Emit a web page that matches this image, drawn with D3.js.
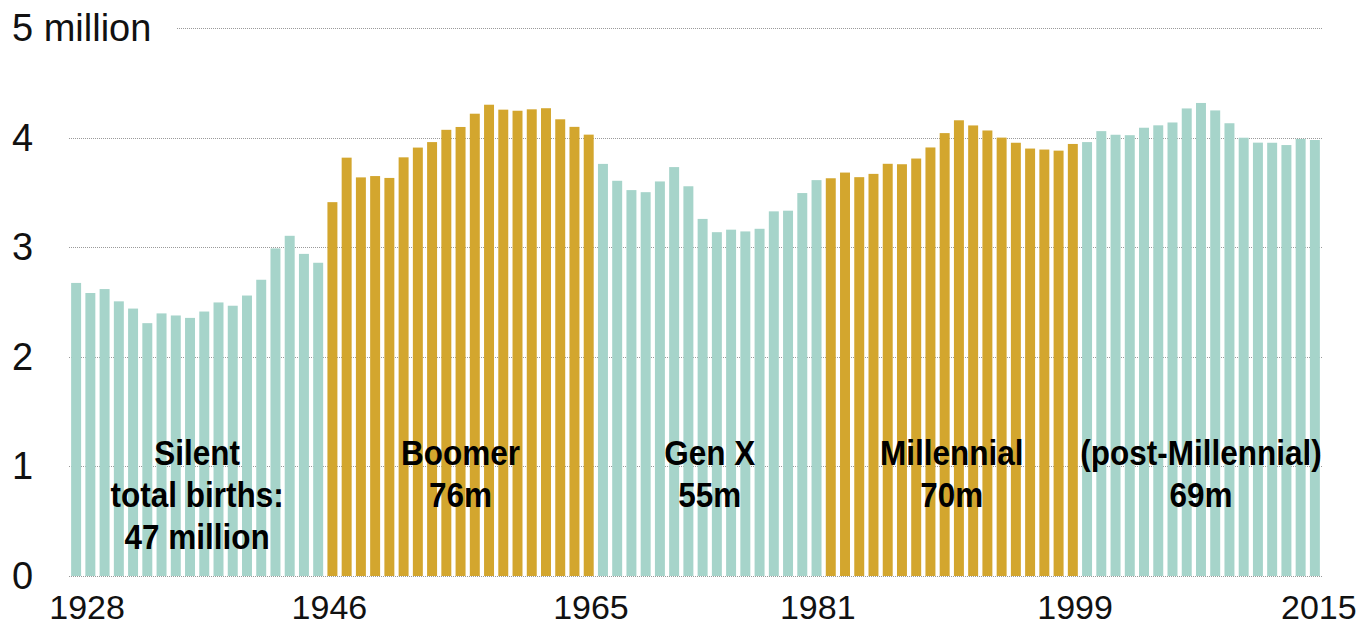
<!DOCTYPE html>
<html>
<head>
<meta charset="utf-8">
<script src="https://cdn.jsdelivr.net/npm/d3@7"></script>
<style>
  html, body { margin: 0; padding: 0; background: #fff; }
  svg { display: block; }
</style>
</head>
<body>
<svg id="chart" width="1362" height="626"></svg>
<script>
// ---- Data ----
const years = d3.range(1928, 2016);
const births = [
  2.674, 2.582, 2.618, 2.506, 2.440, 2.307, 2.396, 2.377, 2.355, 2.413,
  2.496, 2.466, 2.559, 2.703, 2.989, 3.104, 2.939, 2.858, 3.411, 3.817,
  3.637, 3.649, 3.632, 3.820, 3.909, 3.959, 4.071, 4.097, 4.218, 4.300,
  4.255, 4.245, 4.258, 4.268, 4.167, 4.098, 4.027, 3.760, 3.606, 3.521,
  3.502, 3.600, 3.731, 3.556, 3.258, 3.137, 3.160, 3.144, 3.168, 3.327,
  3.333, 3.494, 3.612, 3.629, 3.681, 3.639, 3.669, 3.761, 3.757, 3.809,
  3.910, 4.041, 4.158, 4.111, 4.065, 4.000, 3.953, 3.900, 3.891, 3.881,
  3.942, 3.959, 4.059, 4.026, 4.022, 4.090, 4.112, 4.138, 4.266, 4.316,
  4.248, 4.131, 3.999, 3.954, 3.953, 3.932, 3.988, 3.978
];
const generationNames = ["Silent", "Boomer", "Gen X", "Millennial", "(post-Millennial)"];
const generationStart = [1928, 1946, 1965, 1981, 1999];
const generationEnd = [1945, 1964, 1980, 1998, 2015];
const generationLabels = [
  ["Silent", "total births:", "47 million"],
  ["Boomer", "76m"],
  ["Gen X", "55m"],
  ["Millennial", "70m"],
  ["(post-Millennial)", "69m"]
];
const yTicks = [0, 1, 2, 3, 4, 5];
const yTickLabels = ["0", "1", "2", "3", "4", "5 million"];
const xTickYears = [1928, 1946, 1965, 1981, 1999, 2015];

// ---- Styles ----
const TEAL = "#a6d4ca";
const GOLD = "#d3a62e";
const colors = [TEAL, GOLD, TEAL, GOLD, TEAL];
const FONT = "'Liberation Sans', Arial, Helvetica, sans-serif";

const svg = d3.select("#chart");

const x = d3.scaleBand()
  .domain(years)
  .range([69, 1322])
  .paddingInner(0.3)
  .paddingOuter(0.15);

const y = d3.scaleLinear().domain([0, 5]).range([576, 28]);

function genIndex(yr) {
  for (let i = 0; i < generationStart.length; i++) {
    if (yr >= generationStart[i] && yr <= generationEnd[i]) return i;
  }
  return 0;
}

// gridlines
const grid = svg.append("g");
grid.selectAll("line")
  .data(yTicks)
  .join("line")
  .attr("x1", d => d === 5 ? 177 : 69)
  .attr("x2", 1322)
  .attr("y1", d => Math.round(y(d)) + 0.5)
  .attr("y2", d => Math.round(y(d)) + 0.5)
  .attr("stroke", "#9a9a9a")
  .attr("stroke-width", 1)
  .attr("stroke-dasharray", "1,1");

// y labels
svg.append("g").selectAll("text")
  .data(yTicks)
  .join("text")
  .attr("x", 12)
  .attr("y", d => y(d) + 13)
  .attr("font-family", FONT)
  .attr("font-size", 38)
  .attr("fill", "#111")
  .text((d, i) => yTickLabels[i]);

// bars
const data = years.map((yr, i) => ({ year: yr, value: births[i] }));
svg.append("g").selectAll("rect")
  .data(data)
  .join("rect")
  .attr("x", d => x(d.year))
  .attr("width", x.bandwidth())
  .attr("y", d => y(d.value))
  .attr("height", d => y(0) - y(d.value))
  .attr("fill", d => colors[genIndex(d.year)]);

// x labels
const xLabelShift = {1928: 11, 1946: -3, 1965: -12, 1981: -13, 1999: -12, 2015: 4};
svg.append("g").selectAll("text")
  .data(xTickYears)
  .join("text")
  .attr("x", d => x(d) + x.bandwidth() / 2 + (xLabelShift[d] || 0))
  .attr("y", 619)
  .attr("text-anchor", "middle")
  .attr("font-family", FONT)
  .attr("font-size", 34)
  .attr("fill", "#111")
  .text(d => d);

// generation labels
const gl = svg.append("g");
generationNames.forEach((name, i) => {
  const cx = (x(generationStart[i]) + x(generationEnd[i]) + x.bandwidth()) / 2;
  const t = gl.append("text")
    .attr("transform", `translate(${cx},0) scale(0.9,1)`)
    .attr("text-anchor", "middle")
    .attr("font-family", FONT)
    .attr("font-weight", "bold")
    .attr("font-size", 35)
    .attr("fill", "#000");
  generationLabels[i].forEach((line, j) => {
    t.append("tspan")
      .attr("x", 0)
      .attr("y", 465 + j * 42)
      .text(line);
  });
});
</script>
</body>
</html>
